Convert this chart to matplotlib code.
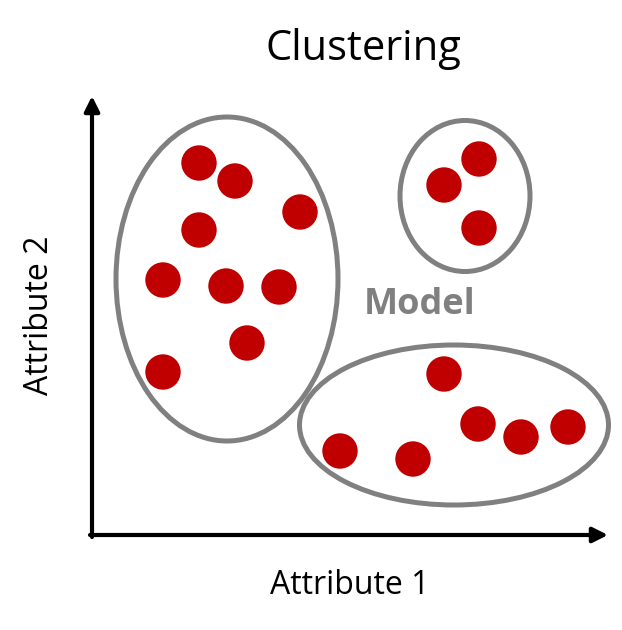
import matplotlib
matplotlib.use("Agg")
import matplotlib.pyplot as plt
from matplotlib.patches import Ellipse

# Data (attribute units; origin at the axes corner)
group1_x = [107, 143, 107, 208, 71, 134, 187, 155, 71]
group1_y = [372, 354, 305, 323, 255, 249, 248, 192, 163]
group2_x = [352, 387, 387]
group2_y = [350, 376, 307]
group3_x = [352, 386, 429, 476, 248, 321]
group3_y = [161, 111, 98, 108, 84, 76]

# cluster outlines: (center x, center y, width, height)
clusters = [(135, 256, 222, 324), (373, 339, 130, 151), (362, 110, 309, 160)]

title = "Clustering"
xlabel = "Attribute 1"
ylabel = "Attribute 2"
model_label = "Model"

fig = plt.figure(figsize=(6.22, 6.30), dpi=100)
ax = fig.add_axes([0, 0, 1, 1])
ax.set_xlim(-92, 530)
ax.set_ylim(-95, 535)
ax.axis("off")

red = "#C00000"
gray = "#808080"
font = ["Open Sans", "DejaVu Sans"]

for cx, cy, w, h in clusters:
    ax.add_patch(Ellipse((cx, cy), w, h, fill=False, edgecolor=gray, linewidth=3.6, zorder=2))

for xs, ys in [(group1_x, group1_y), (group2_x, group2_y), (group3_x, group3_y)]:
    ax.scatter(xs, ys, s=25.5**2, color=red, edgecolors="none", zorder=3)

# axes arrows
ax.annotate("", xy=(516, 0), xytext=(-2, 0),
            arrowprops=dict(arrowstyle="-|>,head_length=0.9,head_width=0.45", color="black",
                            lw=3.0, shrinkA=0, shrinkB=0))
ax.annotate("", xy=(0, 439), xytext=(0, -2),
            arrowprops=dict(arrowstyle="-|>,head_length=0.9,head_width=0.45", color="black",
                            lw=3.0, shrinkA=0, shrinkB=0))

ax.text(271, 535 - 49, title, ha="center", va="center", fontsize=30, family=font)
ax.text(258, 535 - 585, xlabel, ha="center", va="center", fontsize=23, family=font)
ax.text(-53, 535 - 315, ylabel, ha="center", va="center", fontsize=23, rotation=90, family=font)
ax.text(328, 535 - 305, model_label, ha="center", va="center", fontsize=26,
        fontweight="bold", color=gray, family=font)

fig.savefig("out.png", dpi=100)
